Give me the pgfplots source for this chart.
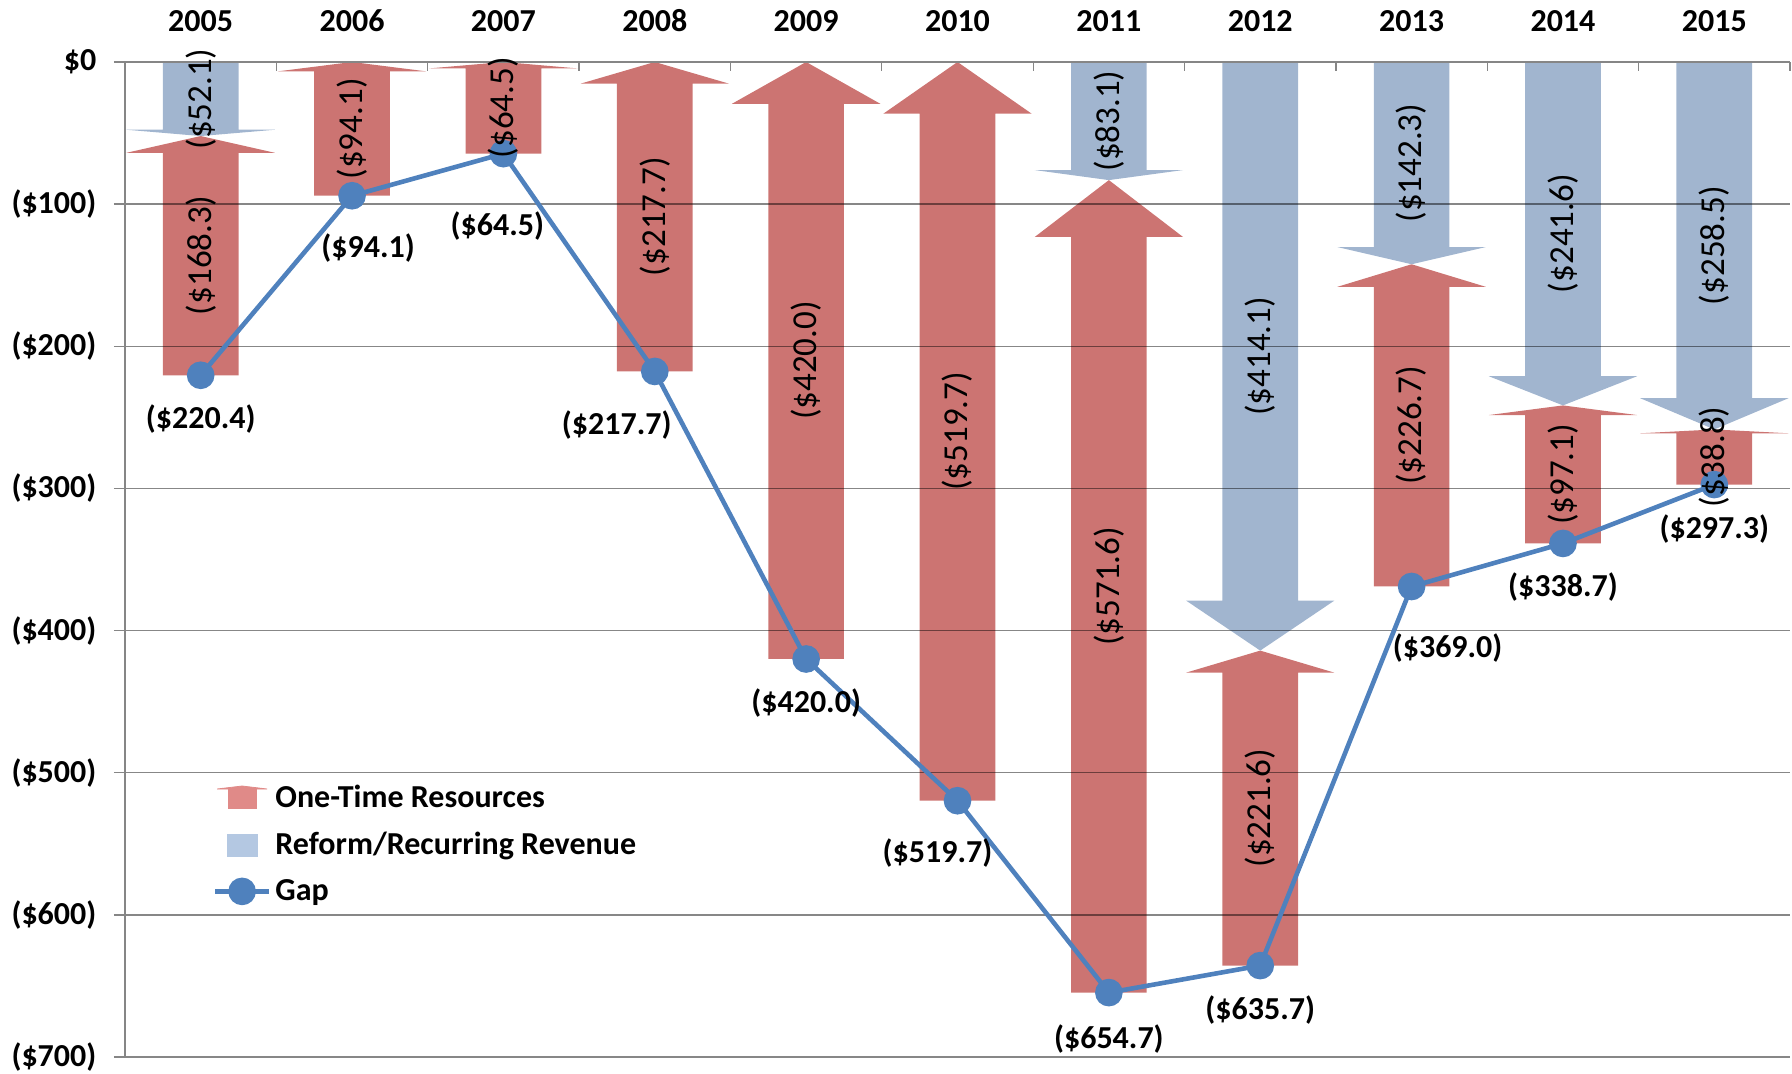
\documentclass[border=0pt]{standalone}
\usepackage{fontspec}
\setmainfont{Carlito}
\usepackage{pgfplots}
\usepackage{pgfplotstable}
\pgfplotsset{compat=1.18}
\definecolor{arrowred}{RGB}{204,116,114}
\definecolor{arrowblue}{RGB}{161,181,207}
\definecolor{legred}{RGB}{224,138,136}
\definecolor{legblue}{RGB}{180,200,226}
\definecolor{linecol}{RGB}{79,129,189}
\definecolor{axgray}{RGB}{134,134,134}

% x = category index, b = reform/recurring revenue, r = one-time resources, gap = resulting gap
% dx, dy = offset of the gap label (pt)
\pgfplotstableread{
x b r gap dx dy
0 52.1 168.3 -220.4 0 -22
1 0 94.1 -94.1 8 -26
2 0 64.5 -64.5 -3 -36
3 0 217.7 -217.7 -19 -27
4 0 420.0 -420.0 0 -22
5 0 519.7 -519.7 -10 -26
6 83.1 571.6 -654.7 0 -23
7 414.1 221.6 -635.7 0 -22
8 142.3 226.7 -369.0 18 -31
9 241.6 97.1 -338.7 0 -22
10 258.5 38.8 -297.3 0 -22
}\gapdata

\pgfplotstableread{
x b
0 52.1
6 83.1
7 414.1
8 142.3
9 241.6
10 258.5
}\bluedata

\pgfplotsset{arrowstyle/.style={draw=none, on layer=axis background, forget plot}}

% up arrow: x, tail, tip
\newcommand{\redarrow}[3]{%
  \pgfmathsetmacro\xa{#1-0.25}\pgfmathsetmacro\xb{#1+0.25}%
  \pgfmathsetmacro\xc{#1-0.49}\pgfmathsetmacro\xd{#1+0.49}%
  \pgfmathsetmacro\hb{#3-0.07*(#3-(#2))}%
  \edef\tmp{\noexpand\addplot[arrowstyle, fill=arrowred] coordinates {(\xa,#2) (\xb,#2) (\xb,\hb) (\xd,\hb) (#1,#3) (\xc,\hb) (\xa,\hb)};}%
  \tmp}
% down arrow: x, length b (from 0 to -b)
\newcommand{\bluearrow}[2]{%
  \pgfmathsetmacro\xa{#1-0.25}\pgfmathsetmacro\xb{#1+0.25}%
  \pgfmathsetmacro\xc{#1-0.49}\pgfmathsetmacro\xd{#1+0.49}%
  \pgfmathsetmacro\hb{-(#2)+0.085*(#2)}%
  \pgfmathsetmacro\tp{-(#2)}%
  \edef\tmp{\noexpand\addplot[arrowstyle, fill=arrowblue] coordinates {(\xa,0) (\xb,0) (\xb,\hb) (\xd,\hb) (#1,\tp) (\xc,\hb) (\xa,\hb)};}%
  \tmp}

\newcommand{\lblfont}{\fontsize{16}{18}\selectfont\bfseries}
\newcommand{\rotfont}{\fontsize{17.5}{20}\selectfont}

\begin{document}
\begin{tikzpicture}
\begin{axis}[
  set layers,
  scale only axis, width=832.5pt, height=497.5pt,
  xmin=-0.5, xmax=10.5, ymin=-700, ymax=0,
  axis x line*=top, axis y line*=left,
  axis line style={axgray, line width=0.65pt},
  xtick={0,1,2,3,4,5,6,7,8,9,10},
  xticklabels={2005,2006,2007,2008,2009,2010,2011,2012,2013,2014,2015},
  minor xtick={-0.5,0.5,1.5,2.5,3.5,4.5,5.5,6.5,7.5,8.5,9.5,10.5},
  major x tick style={draw=none},
  minor x tick style={axgray, line width=0.65pt},
  minor tick length=-4.5pt,
  major tick length=5.5pt,
  tick align=outside,
  y tick style={axgray, line width=0.65pt},
  ytick={-700,-600,-500,-400,-300,-200,-100,0},
  yticklabels={(\$700),(\$600),(\$500),(\$400),(\$300),(\$200),(\$100),\$0},
  ymajorgrids,
  grid style={black, opacity=0.47, line width=0.65pt},
  ticklabel style={font=\lblfont, text=black},
  yticklabel style={xshift=-5.3pt},
  xticklabel style={yshift=6.2pt},
  legend style={at={(0.0525,0.2775)}, anchor=north west, draw=none, fill=none,
    font=\lblfont, row sep=6.8pt, inner sep=0pt},
  legend cell align=left,
  legend image code/.code={\draw[mark repeat=2,mark phase=2,#1] plot coordinates {(0pt,0pt) (13.5pt,0pt) (27pt,0pt)};},
]
% arrows
\pgfplotsforeachungrouped \i in {0,...,10}{%
  \pgfplotstablegetelem{\i}{b}\of\gapdata \let\bv\pgfplotsretval
  \pgfplotstablegetelem{\i}{gap}\of\gapdata \let\gv\pgfplotsretval
  \pgfmathsetmacro\tipv{-(\bv)}%
  \redarrow{\i}{\gv}{\tipv}%
  \ifdim\bv pt>0pt \bluearrow{\i}{\bv}\fi
}

\addlegendimage{legend image code/.code={\fill[legred] (6.5pt,-5pt) rectangle (20.5pt,4.5pt); \fill[legred] (1pt,4.5pt) -- (26pt,4.5pt) -- (13.5pt,6pt) -- cycle;}}
\addlegendentry{One-Time Resources}
\addlegendimage{legend image code/.code={\fill[legblue] (6pt,-5.5pt) rectangle (21pt,5.5pt);}}
\addlegendentry{Reform/Recurring Revenue}

% gap line
\addplot[color=linecol, line width=2.3pt, mark=*, mark size=5.75pt,
  mark options={draw=none, fill=linecol}] table[x=x, y=gap] {\gapdata};
\addlegendentry{Gap}

% rotated value labels
\addplot[draw=none, mark=none, forget plot, point meta={\thisrow{b}},
  nodes near coords={(\$\pgfmathprintnumber[fixed,fixed zerofill,precision=1,assume math mode=true]{\pgfplotspointmeta})},
  every node near coord/.append style={rotate=90, anchor=center, font=\rotfont, text=black}]
  table[x=x, y expr={-\thisrow{b}/2}] {\bluedata};
\addplot[draw=none, mark=none, forget plot, point meta={\thisrow{r}},
  nodes near coords={(\$\pgfmathprintnumber[fixed,fixed zerofill,precision=1,assume math mode=true]{\pgfplotspointmeta})},
  every node near coord/.append style={rotate=90, anchor=center, font=\rotfont, text=black}]
  table[x=x, y expr={-\thisrow{b}-\thisrow{r}/2}] {\gapdata};

% gap labels
\addplot[draw=none, mark=none, forget plot, point meta={-\thisrow{gap}},
  visualization depends on={\thisrow{dx}\as\dx},
  visualization depends on={\thisrow{dy}\as\dy},
  nodes near coords={(\$\pgfmathprintnumber[fixed,fixed zerofill,precision=1,assume math mode=true]{\pgfplotspointmeta})},
  every node near coord/.append style={anchor=center, xshift=\dx pt, yshift=\dy pt, font=\lblfont, text=black}]
  table[x=x, y=gap] {\gapdata};
\end{axis}
\pgfresetboundingbox
\path (current axis.south west) ++(-62.5pt,-8.5pt) rectangle ([xshift=1pt,yshift=31pt]current axis.north east);
\end{tikzpicture}
\end{document}
